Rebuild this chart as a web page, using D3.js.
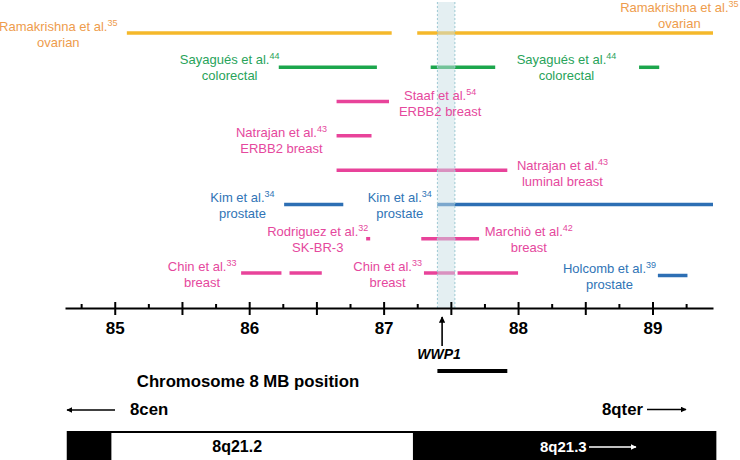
<!DOCTYPE html>
<html>
<head>
<meta charset="utf-8">
<script src="https://cdn.jsdelivr.net/npm/d3@7/dist/d3.min.js"></script>
<style>
body { margin: 0; background: #fff; }
svg { display: block; font-family: "Liberation Sans", Arial, sans-serif; }
</style>
</head>
<body>
<script>
// Study tracks, top to bottom
var rows = ["ovarian", "colorectal", "staaf", "natrajanErbb2", "natrajanLuminal", "kim", "rodriguezMarchio", "chinHolcomb"];

// Amplified segments: [row, start MB, end MB, group]
var segments = [
  [0, 85.09, 87.06, "ovarian"],
  [0, 87.25, 89.45, "ovarian"],
  [1, 86.22, 86.95, "colorectal"],
  [1, 87.35, 87.83, "colorectal"],
  [1, 88.90, 89.05, "colorectal"],
  [2, 86.65, 87.04, "breast"],
  [3, 86.65, 86.91, "breast"],
  [4, 86.65, 87.92, "breast"],
  [5, 86.26, 86.70, "prostate"],
  [5, 87.40, 89.45, "prostate"],
  [6, 86.87, 86.90, "breast"],
  [6, 87.28, 87.71, "breast"],
  [7, 85.94, 86.24, "breast"],
  [7, 86.30, 86.54, "breast"],
  [7, 87.30, 87.53, "breast"],
  [7, 87.55, 88.00, "breast"],
  [7, 89.04, 89.26, "prostate"]
];

// Study labels: [row, name, reference, second line, group]
var labels = [
  [0, "Ramakrishna et al.", "35", "ovarian", "ovarian"],
  [0, "Ramakrishna et al.", "35", "ovarian", "ovarian"],
  [1, "Sayagués et al.", "44", "colorectal", "colorectal"],
  [1, "Sayagués et al.", "44", "colorectal", "colorectal"],
  [2, "Staaf et al.", "54", "ERBB2 breast", "breast"],
  [3, "Natrajan et al.", "43", "ERBB2 breast", "breast"],
  [4, "Natrajan et al.", "43", "luminal breast", "breast"],
  [5, "Kim et al.", "34", "prostate", "prostate"],
  [5, "Kim et al.", "34", "prostate", "prostate"],
  [6, "Rodriguez et al.", "32", "SK-BR-3", "breast"],
  [6, "Marchiò et al.", "42", "breast", "breast"],
  [7, "Chin et al.", "33", "breast", "breast"],
  [7, "Chin et al.", "33", "breast", "breast"],
  [7, "Holcomb et al.", "39", "prostate", "prostate"]
];
// label centre (MB) and vertical lift (px), same order as labels
var labelPos = [
  [84.58, 2], [89.20, 21], [85.855, 3], [88.36, 3], [87.42, 2], [86.24, -1], [88.33, 0],
  [85.95, 2], [87.12, 2], [86.51, 3], [88.08, 3], [85.65, 2], [87.03, 2], [88.68, 0]
];

// WWP1 region and gene
var wwp1Region = [87.40, 87.53];
var wwp1Gene = [87.40, 87.92];
var wwp1Arrow = 87.435;

// Axis ticks
var majorTicks = [85, 85.5, 86, 86.5, 87, 87.5, 88, 88.5, 89];
var minorTicks = [84.75, 85.25, 85.75, 86.25, 86.75, 87.25, 87.75, 88.25, 88.75, 89.25];

// Chromosome bands: [name, start, end]
var bands = [
  ["", 84.643, 84.975],
  ["8q21.2", 84.975, 87.218],
  ["8q21.3", 87.218, 89.475]
];

var lineColor = { ovarian: "#f5b82a", colorectal: "#1ca64c", breast: "#e8439a", prostate: "#2d6fb4" };
var textColor = { ovarian: "#ee9c4c", colorectal: "#28a35a", breast: "#e5489d", prostate: "#3074b6" };

var width = 740, height = 460;
var svg = d3.select("body").append("svg").attr("width", width).attr("height", height);

var x = d3.scaleLinear().domain([84.63, 89.45]).range([65, 713]);
var y = d3.scalePoint().domain(d3.range(rows.length)).range([33, 273]);

// segments
svg.append("g").selectAll("line").data(segments).enter().append("line")
  .attr("x1", function(d){ return x(d[1]); })
  .attr("x2", function(d){ return x(d[2]); })
  .attr("y1", function(d){ return y(d[0]) + (d[0] == 7 && d[3] == "prostate" ? 2.5 : 0); })
  .attr("y2", function(d){ return y(d[0]) + (d[0] == 7 && d[3] == "prostate" ? 2.5 : 0); })
  .attr("stroke", function(d){ return lineColor[d[3]]; })
  .attr("stroke-width", 3.5);

// WWP1 shaded column on top of the segments
svg.append("rect")
  .attr("x", x(wwp1Region[0])).attr("y", 2)
  .attr("width", x(wwp1Region[1]) - x(wwp1Region[0])).attr("height", 306)
  .attr("fill", "#c9e0e6").attr("fill-opacity", 0.5);
wwp1Region.forEach(function(v){
  svg.append("line").attr("x1", x(v)).attr("x2", x(v)).attr("y1", 2).attr("y2", 308)
    .attr("stroke", "#9cc9d3").attr("stroke-width", 1).attr("stroke-dasharray", "2,2");
});

// labels
var lab = svg.append("g").selectAll("g").data(labels).enter().append("g")
  .attr("fill", function(d){ return textColor[d[4]]; })
  .attr("font-size", 13)
  .attr("text-anchor", "middle");
lab.each(function(d, i){
  var g = d3.select(this);
  var cx = x(labelPos[i][0]);
  var by = y(d[0]) - labelPos[i][1];
  var t1 = g.append("text").attr("x", cx).attr("y", by);
  t1.append("tspan").text(d[1]);
  t1.append("tspan").attr("dy", -5).attr("font-size", 9).text(d[2]);
  g.append("text").attr("x", cx).attr("y", by + 16).text(d[3]);
});

// axis
var axisY = 308;
var allTicks = majorTicks.concat(minorTicks).sort(d3.ascending);
var axis = svg.append("g").attr("transform", "translate(0," + axisY + ")")
  .call(d3.axisBottom(x).tickValues(allTicks).tickSizeOuter(0)
    .tickFormat(function(d){ return Number.isInteger(d) ? d : ""; }));
axis.select(".domain").attr("stroke", "#000").attr("stroke-width", 2);
axis.selectAll(".tick line")
  .attr("stroke", "#000").attr("stroke-width", 2)
  .attr("y1", function(d){ return majorTicks.indexOf(d) >= 0 ? -6 : -4; })
  .attr("y2", function(d){ return majorTicks.indexOf(d) >= 0 ? 7 : 0; });
axis.selectAll(".tick text")
  .attr("y", 26).attr("dy", 0)
  .attr("fill", "#000").attr("font-size", 17).attr("font-weight", "bold")
  .attr("font-family", "Liberation Sans, Arial, sans-serif");

// arrow marker
var defs = svg.append("defs");
defs.append("marker").attr("id", "head").attr("viewBox", "0 0 10 10")
  .attr("refX", 9).attr("refY", 5).attr("markerWidth", 4).attr("markerHeight", 4)
  .attr("orient", "auto-start-reverse")
  .append("path").attr("d", "M0,0L10,5L0,10z").attr("fill", "#000");
defs.append("marker").attr("id", "headW").attr("viewBox", "0 0 10 10")
  .attr("refX", 9).attr("refY", 5).attr("markerWidth", 4).attr("markerHeight", 4)
  .attr("orient", "auto")
  .append("path").attr("d", "M0,0L10,5L0,10z").attr("fill", "#fff");

// WWP1 arrow, label and bar
svg.append("line").attr("x1", x(wwp1Arrow)).attr("x2", x(wwp1Arrow))
  .attr("y1", 346).attr("y2", 317)
  .attr("stroke", "#000").attr("stroke-width", 1.6).attr("marker-end", "url(#head)");
svg.append("text").attr("x", x(wwp1Arrow) - 3).attr("y", 359)
  .attr("text-anchor", "middle").attr("font-size", 14)
  .attr("font-weight", "bold").attr("font-style", "italic").text("WWP1");
svg.append("line").attr("x1", x(wwp1Gene[0])).attr("x2", x(wwp1Gene[1]))
  .attr("y1", 371).attr("y2", 371).attr("stroke", "#000").attr("stroke-width", 4);

// axis title
svg.append("text").attr("x", 248).attr("y", 387).attr("text-anchor", "middle")
  .attr("font-size", 16.75).attr("font-weight", "bold").text("Chromosome 8 MB position");

// 8cen / 8qter
svg.append("line").attr("x1", 115).attr("x2", 67).attr("y1", 410).attr("y2", 410)
  .attr("stroke", "#000").attr("stroke-width", 1.5).attr("marker-end", "url(#head)");
svg.append("text").attr("x", 130).attr("y", 415).attr("font-size", 16.75)
  .attr("font-weight", "bold").text("8cen");
svg.append("line").attr("x1", 647).attr("x2", 686).attr("y1", 409.5).attr("y2", 409.5)
  .attr("stroke", "#000").attr("stroke-width", 1.5).attr("marker-end", "url(#head)");
svg.append("text").attr("x", 643).attr("y", 415).attr("text-anchor", "end").attr("font-size", 16.75)
  .attr("font-weight", "bold").text("8qter");

// chromosome ideogram
var bandTop = 431;
svg.append("rect").attr("x", x(bands[0][1])).attr("y", bandTop)
  .attr("width", x(bands[2][2]) - x(bands[0][1])).attr("height", 40).attr("fill", "#000");
svg.append("rect").attr("x", x(bands[1][1])).attr("y", bandTop + 2)
  .attr("width", x(bands[1][2]) - x(bands[1][1])).attr("height", 40).attr("fill", "#fff");
svg.append("text").attr("x", (x(bands[1][1]) + x(bands[1][2])) / 2 - 25).attr("y", 452)
  .attr("text-anchor", "middle").attr("font-size", 16).attr("font-weight", "bold").text(bands[1][0]);
svg.append("text").attr("x", 540).attr("y", 452)
  .attr("font-size", 15).attr("font-weight", "bold").attr("fill", "#fff").text(bands[2][0]);
svg.append("line").attr("x1", 589).attr("x2", 636).attr("y1", 447).attr("y2", 447)
  .attr("stroke", "#fff").attr("stroke-width", 1.5).attr("marker-end", "url(#headW)");
</script>
</body>
</html>
